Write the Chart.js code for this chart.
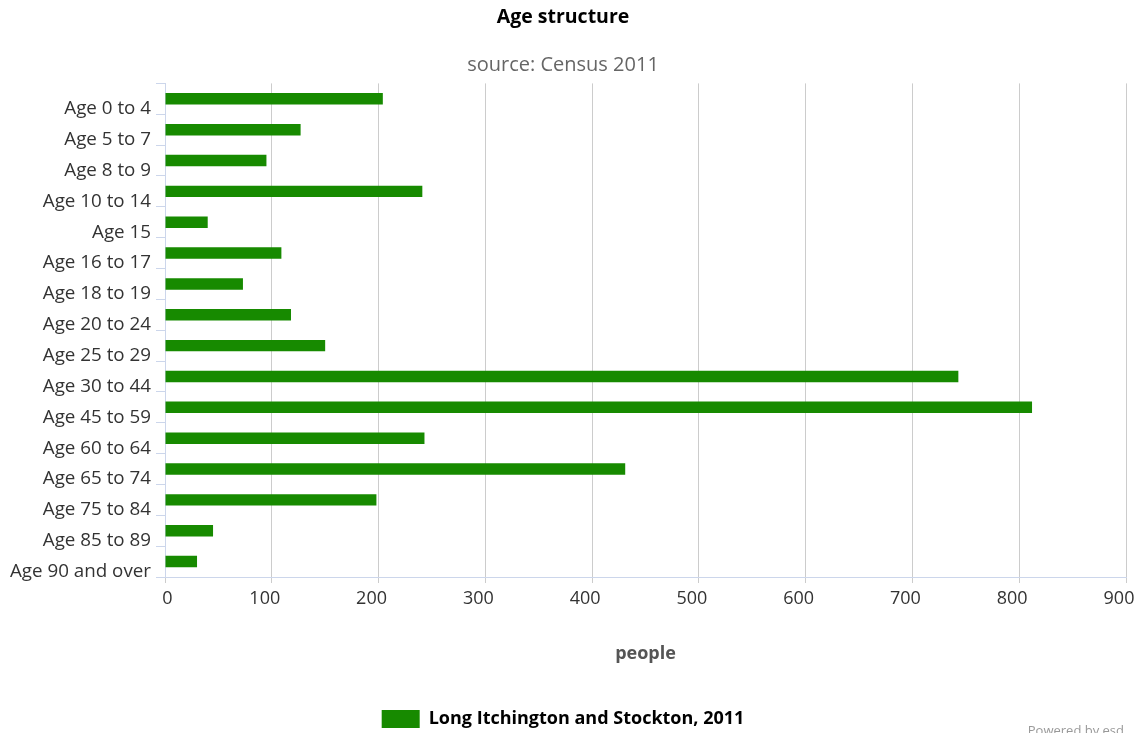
<!DOCTYPE html>
<html>
<head>
<meta charset="utf-8">
<script src="https://cdn.jsdelivr.net/npm/chart.js@4.4.0/dist/chart.umd.min.js"></script>
<style>
  body { margin: 0; background: #fff; }
  #wrap { position: relative; width: 1138px; height: 733px; overflow: hidden; }
  #credit { position: absolute; right: 14px; top: 721px; font: 13px "Open Sans", sans-serif; color: #999; }
</style>
</head>
<body>
<div id="wrap">
  <canvas id="myChart" width="1138" height="733"></canvas>
  <div id="credit">Powered by esd</div>
</div>
<script>
const ageGroups = ['Age 0 to 4', 'Age 5 to 7', 'Age 8 to 9', 'Age 10 to 14', 'Age 15',
    'Age 16 to 17', 'Age 18 to 19', 'Age 20 to 24', 'Age 25 to 29', 'Age 30 to 44',
    'Age 45 to 59', 'Age 60 to 64', 'Age 65 to 74', 'Age 75 to 84', 'Age 85 to 89',
    'Age 90 and over'];
const people2011 = [204, 127, 95, 241, 40, 109, 73, 118, 150, 743, 812, 243, 431, 198, 45, 30];
const seriesName = 'Long Itchington and Stockton, 2011';

const FONT = '"Open Sans", sans-serif';

const ctx = document.getElementById('myChart').getContext('2d');
const graph = new Chart(ctx, {
    type: 'bar',
    data: {
        labels: ageGroups,
        datasets: [{
            label: seriesName,
            data: people2011,
            backgroundColor: '#178a00',
            borderWidth: 0,
            categoryPercentage: 1,
            barPercentage: 0.37
        }]
    },
    options: {
        responsive: false,
        animation: false,
        indexAxis: 'y',
        // negative bottom padding pushes the legend down to the window edge
        layout: { padding: { left: 0, right: 12, top: 0, bottom: -5 } },
        plugins: {
            title: {
                display: true,
                text: 'Age structure',
                color: '#000',
                font: { family: FONT, size: 19.5, weight: 'bold' },
                padding: { top: 6, bottom: 24 }
            },
            subtitle: {
                display: true,
                text: 'source: Census 2011',
                color: '#666',
                font: { family: FONT, size: 20 },
                padding: { top: 0, bottom: 6 }
            },
            legend: {
                position: 'bottom',
                labels: {
                    color: '#000',
                    font: { family: FONT, size: 18, weight: 'bold' },
                    boxWidth: 38,
                    boxHeight: 18,
                    padding: 2
                }
            },
            tooltip: { enabled: false }
        },
        scales: {
            y: {
                type: 'category',
                grid: {
                    offset: true,
                    drawOnChartArea: false,
                    tickLength: 9,
                    color: '#ccd6eb'
                },
                border: { color: '#ccd6eb' },
                ticks: {
                    color: '#333',
                    font: { family: FONT, size: 18.8 },
                    padding: 5,
                    labelOffset: 10,
                    autoSkip: false
                },
                afterFit: function (scale) {
                    scale.width = 165;
                    scale.paddingTop = 0;
                    scale.paddingBottom = 0;
                }
            },
            x: {
                min: 0,
                max: 900,
                grid: {
                    color: '#cccccc',
                    tickLength: 6
                },
                border: { color: '#ccd6eb' },
                ticks: {
                    stepSize: 100,
                    color: '#333',
                    font: { family: FONT, size: 18 },
                    padding: 5,
                    labelOffset: -7,
                    callback: function (value) {
                        return value === 0 ? '    0' : value;
                    }
                },
                title: {
                    display: true,
                    text: 'people',
                    color: '#555',
                    font: { family: FONT, size: 18, weight: 'bold' },
                    padding: { top: 0, bottom: 43 }
                },
                afterFit: function (scale) {
                    scale.height = 131;
                    scale.paddingLeft = 0;
                    scale.paddingRight = 0;
                }
            }
        }
    }
});
</script>
</body>
</html>
